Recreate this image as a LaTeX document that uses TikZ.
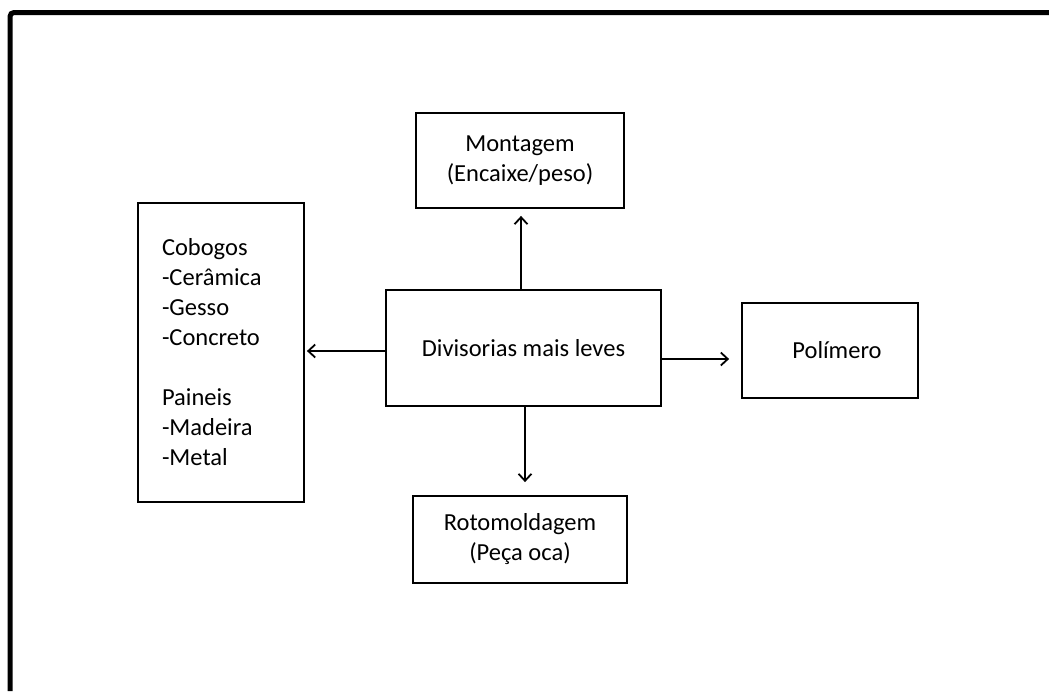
\documentclass[tikz,border=0pt]{standalone}
\usepackage{fontspec}
\setmainfont{Carlito}
\usetikzlibrary{arrows.meta}
\begin{document}
\begin{tikzpicture}[x=1pt,y=-1pt,
  box/.style={draw, line width=1.8pt, inner sep=0pt, align=center, font=\fontsize{24.5}{30}\selectfont},
  arr/.style={-{Straight Barb[length=7pt,width=13pt,line width=1.8pt]}, line width=1.8pt}]
\useasboundingbox (0,0) rectangle (1049,691);
\draw[line width=5pt, rounded corners=4pt] (10,691) |- (1049,12.5);

\node[box, minimum width=208pt, minimum height=95pt] (mont) at (520,160.5) {\raisebox{-3pt}{Montagem}\\\raisebox{-3pt}{(Encaixe/peso)}};
\node[box, minimum width=275pt, minimum height=116pt] (cent) at (523.5,348) {Divisorias mais leves};
\node[box, minimum width=176pt, minimum height=95pt] (pol) at (830,350.5) {\hspace*{14pt}\raisebox{-6pt}{Polímero}};
\node[box, minimum width=214pt, minimum height=87pt] (rot) at (520,539.5) {Rotomoldagem\\(Peça oca)};
\node[box, align=left, text width=118pt, inner xsep=24pt, minimum height=299pt] (cob) at (221,352.5)
  {Cobogos\\-Cerâmica\\-Gesso\\-Concreto\\[30pt]Paineis\\-Madeira\\-Metal};

\draw[arr] ([xshift=1pt]cent.north -| mont.south) -- ([xshift=1pt,yshift=-7pt]mont.south);
\draw[arr] ([xshift=5pt]cent.south -| rot.north) -- ([xshift=5pt,yshift=13pt]rot.north);
\coordinate (rs) at ([yshift=-11pt]cent.east);
\draw[arr] (rs) -- ([xshift=-12pt]pol.west |- rs);
\coordinate (ls) at ([yshift=-3pt]cent.west);
\draw[arr] (ls) -- ([xshift=2pt]cob.east |- ls);
\end{tikzpicture}
\end{document}
